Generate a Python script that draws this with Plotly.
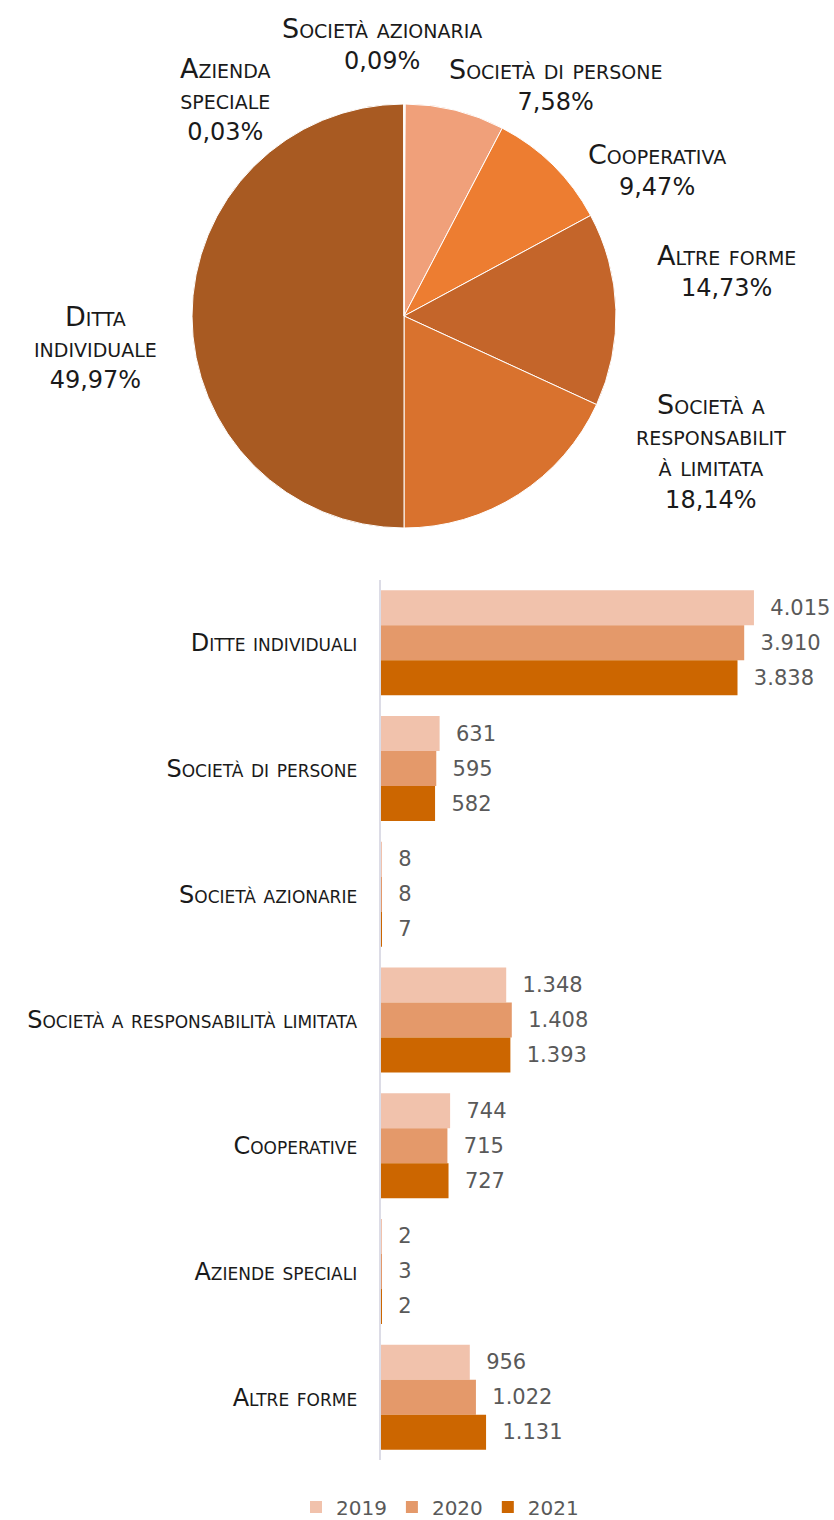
import plotly.graph_objects as go

# ---------------- data ----------------
categories = ["Ditte individuali", "Società di persone", "Società azionarie",
              "Società a responsabilità limitata", "Cooperative",
              "Aziende speciali", "Altre forme"]
years = ["2019", "2020", "2021"]
values_2019 = [4015, 631, 8, 1348, 744, 2, 956]
values_2020 = [3910, 595, 8, 1408, 715, 3, 1022]
values_2021 = [3838, 582, 7, 1393, 727, 2, 1131]

pie_labels = ["Società azionaria", "Società di persone", "Cooperativa",
              "Altre forme", "Società a responsabilità limitata",
              "Ditta individuale", "Azienda speciale"]
pie_label_lines = [["Società azionaria"], ["Società di persone"], ["Cooperativa"],
                   ["Altre forme"], ["Società a", "responsabilit", "à limitata"],
                   ["Ditta", "individuale"], ["Azienda", "speciale"]]
pie_values = [7, 582, 727, 1131, 1393, 3838, 2]

# ---------------- style ----------------
OX, OY = 0, 0
W, H = 834, 1520
FONT = "DejaVu Sans"
pie_colors = ["#F6BE9E", "#F0A07A", "#ED7D31", "#C4652A", "#D9722E", "#A85A22", "#8E4A1C"]
bar_colors = ["#F1C2AC", "#E4996A", "#CC6600"]
label_pos = [(382, 44), (555, 85), (657, 170), (726, 271), (711, 452), (95, 348), (225, 100)]


def fx(x):
    return (x - OX) / W


def fy(y):
    return 1 - (y - OY) / H


fig = go.Figure()

fig.add_trace(go.Pie(
    labels=pie_labels, values=pie_values, sort=False, direction="clockwise",
    rotation=0, textinfo="none", hoverinfo="label+percent",
    marker=dict(colors=pie_colors, line=dict(color="white", width=1)),
    domain=dict(x=[fx(192), fx(616)], y=[fy(528), fy(104)]),
    showlegend=False,
))

total = sum(pie_values)
for lines, v, (px, py) in zip(pie_label_lines, pie_values, label_pos):
    pct = f"{100 * v / total:.2f}".replace(".", ",") + "%"
    lab = "<br>".join(f'<span style="font-size:27px">{ln}</span>' for ln in lines)
    fig.add_annotation(
        x=fx(px), y=fy(py), xref="paper", yref="paper",
        text=f"{lab}<br>{pct}", showarrow=False, align="center",
        xanchor="center", yanchor="middle",
        font=dict(family=FONT, size=24, color="#1a1a1a", variant="small-caps"),
    )

for yr, vals, col in zip(years, [values_2019, values_2020, values_2021], bar_colors):
    fig.add_trace(go.Bar(
        y=categories, x=vals, name=yr, orientation="h",
        marker=dict(color=col, line=dict(width=0)),
        texttemplate="\u00a0\u00a0%{x:,}", textposition="outside",
        constraintext="none", cliponaxis=False,
        textfont=dict(family=FONT, size=21, color="#595959"),
        xaxis="x", yaxis="y",
    ))

fig.update_layout(
    width=W, height=H,
    margin=dict(l=0, r=0, t=0, b=0, autoexpand=False),
    paper_bgcolor="white", plot_bgcolor="white",
    separators=",.",
    barmode="group", bargap=0.165, bargroupgap=0,
    font=dict(family=FONT, color="#1a1a1a"),
    xaxis=dict(domain=[fx(381), fx(799)], range=[0, 4500], visible=False,
               showgrid=False, zeroline=False, automargin=False),
    yaxis=dict(domain=[fy(1460), fy(580)], autorange="reversed", automargin=False,
               showline=True, linecolor="#DCDCE6", linewidth=2,
               showgrid=False, ticks="", ticklabelstandoff=17,
               tickfont=dict(family=FONT, size=24, color="#1a1a1a", variant="small-caps")),
    legend=dict(orientation="h", x=fx(440), xanchor="center", y=fy(1507),
                yanchor="middle", traceorder="normal",
                font=dict(family=FONT, size=20, color="#595959")),
)

fig.write_html("out.html", config={"displayModeBar": False},
               post_script="document.body.style.margin='0px';document.body.style.overflow='hidden';")
